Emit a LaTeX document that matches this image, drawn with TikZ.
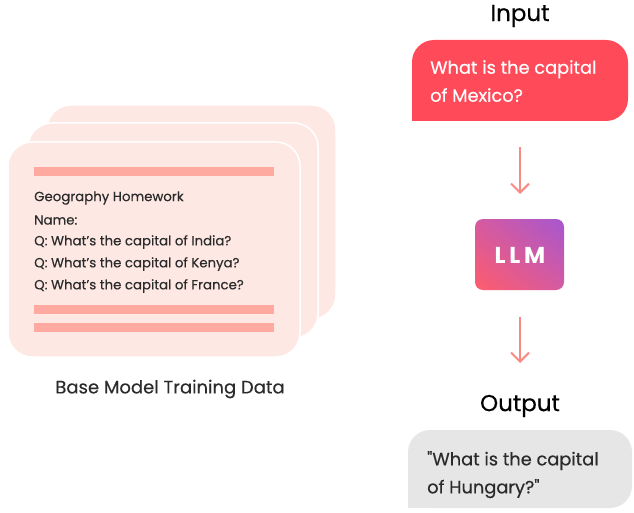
\documentclass[tikz,border=0pt]{standalone}
\usepackage{fontspec}
\setmainfont{Poppins}[FakeBold=0.35]
\newfontfamily\llmfont{Poppins}
\usetikzlibrary{arrows.meta,shadings}
\definecolor{cardfill}{HTML}{FEE8E4}
\definecolor{bar}{HTML}{FFAAA0}
\definecolor{inred}{HTML}{FF4B59}
\definecolor{outgray}{HTML}{E6E6E6}
\definecolor{arrowc}{HTML}{F88A84}
\definecolor{llmA}{HTML}{FF5C6C}
\definecolor{llmB}{HTML}{A657D0}
\definecolor{llmM}{HTML}{D55AA0}
\definecolor{txt}{HTML}{2B2B2B}
\begin{document}
\begin{tikzpicture}[x=1pt,y=-1pt,
  card/.style={fill=cardfill,draw=white,line width=1.5pt,rounded corners=24pt},
  barstyle/.style={fill=bar},
  cardtext/.style={anchor=west,inner sep=0pt,font=\fontsize{13.3}{13.3}\selectfont,text=txt},
  title/.style={font=\fontsize{23}{23}\selectfont,text=black,inner sep=0pt},
  flow/.style={draw=arrowc,line width=2pt,-{Straight Barb[length=9pt,width=18pt,line width=2pt]}},
  bubbletext/.style={align=left,font=\fontsize{17.8}{28}\selectfont,inner sep=0pt,anchor=north west}
]
\useasboundingbox (0,0) rectangle (634,513);
% cards
\draw[card] (47,105) rectangle (336,319);
\draw[card] (28,123) rectangle (318,338);
\draw[card] (8,142) rectangle (300,357);
\fill[barstyle] (34,167) rectangle (274,176);
\fill[barstyle] (34,305) rectangle (274,314);
\fill[barstyle] (34,323) rectangle (274,332);
\node[cardtext] (l1) at (34,198) {Geography Homework};
\node[cardtext] (l2) at (34,220) {Name:};
\node[cardtext] (l3) at (34,242) {Q: What's the capital of India?};
\node[cardtext] (l4) at (34,264) {Q: What's the capital of Kenya?};
\node[cardtext] (l5) at (34,286) {Q: What's the capital of France?};
\node[font=\fontsize{18}{18}\selectfont,text=txt,inner sep=0pt] (cap) at (170,389) {Base Model Training Data};
% input
\node[title] (inT) at (520,16) {Input};
\fill[inred,rounded corners=22pt] (412,40) rectangle (628,121);
\fill[inred] (412,90) rectangle (440,121);
\node[bubbletext,text=white] (inQ) at (430,60) {What is the capital\\of Mexico?};
\coordinate (a1s) at (520,147);
\coordinate (a1e) at (520,194);
\draw[flow] (a1s) -- (a1e);
% LLM
\shade[rounded corners=8pt,upper left=llmM,upper right=llmB,lower left=llmA,lower right=llmM] (475,219) rectangle (564,290);
\node[text=white,font=\llmfont\bfseries\fontsize{23}{23}\selectfont,inner sep=0pt] (llm) at (520,255) {L\,L\,M};
\coordinate (a2s) at (520,317);
\coordinate (a2e) at (520,363);
\draw[flow] (a2s) -- (a2e);
% output
\node[title] (outT) at (520,406) {Output};
\fill[outgray,rounded corners=22pt] (408,430) rectangle (632,508);
\fill[outgray] (408,480) rectangle (440,508);
\node[bubbletext,text=txt] (outQ) at (427,451) {\textquotedbl What is the capital\\of Hungary?\textquotedbl};
\end{tikzpicture}
\end{document}
